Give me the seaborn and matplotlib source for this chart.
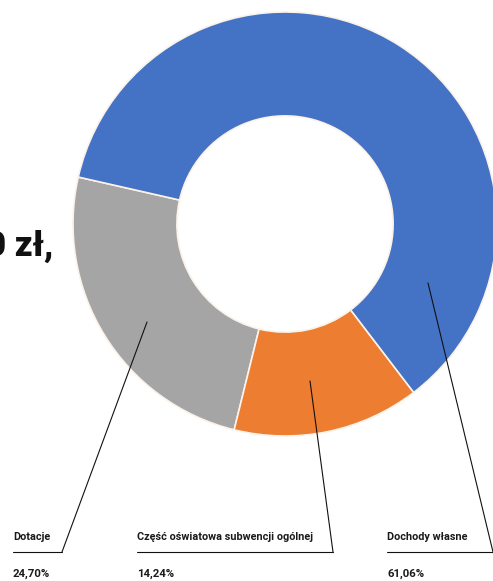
import matplotlib
matplotlib.use("Agg")
import matplotlib.pyplot as plt
import seaborn as sns

# ---- data ----
categories = ["Dotacje", "Część oświatowa subwencji ogólnej", "Dochody własne"]
shares = [24.70, 14.24, 61.06]
pct_labels = ["24,70%", "14,24%", "61,06%"]
colors = ["#A5A5A5", "#ED7D31", "#4472C4"]
headline = "0 zł,"

sns.set_theme(style="white")
plt.rcParams["font.family"] = ["Roboto", "DejaVu Sans"]

W, H = 493, 581
fig = plt.figure(figsize=(W / 100, H / 100), dpi=100)
ax = fig.add_axes([0, 0, 1, 1])

def py(y):
    return H - y

cx, cy, R = 285, py(224), 212
wedges, _ = ax.pie(shares, colors=sns.color_palette(colors), startangle=167.2,
                   counterclock=True, center=(cx, cy), radius=R,
                   wedgeprops=dict(width=R * 0.49, edgecolor="#FBF3EA", linewidth=1.2))
ax.set_xlim(0, W)
ax.set_ylim(0, H)
ax.set_aspect("equal")
ax.axis("off")

# headline (cut off at left in the original)
ax.text(53, py(246), headline, ha="right", va="center", fontsize=25,
        fontweight="black", color="#111111")

# leader lines and labels
leaders = [
    ((147, 322), (62, 552), (13, 62)),
    ((310, 381), (333, 552), (137, 333)),
    ((428, 283), (493, 552), (387, 493)),
]
for (start, end, (hx0, hx1)), cat, pct in zip(leaders, categories, pct_labels):
    ax.plot([start[0], end[0]], [py(start[1]), py(end[1])], color="#111111", lw=0.8)
    ax.plot([hx0, hx1], [py(552), py(552)], color="#111111", lw=0.8)
    ax.text(hx0, py(537), cat, ha="left", va="center", fontsize=7.8,
            fontweight="bold", color="#1a1a1a")
    ax.text(hx0, py(574), pct, ha="left", va="center", fontsize=8.2,
            fontweight="bold", color="#1a1a1a")

fig.savefig("out.png", dpi=100)
